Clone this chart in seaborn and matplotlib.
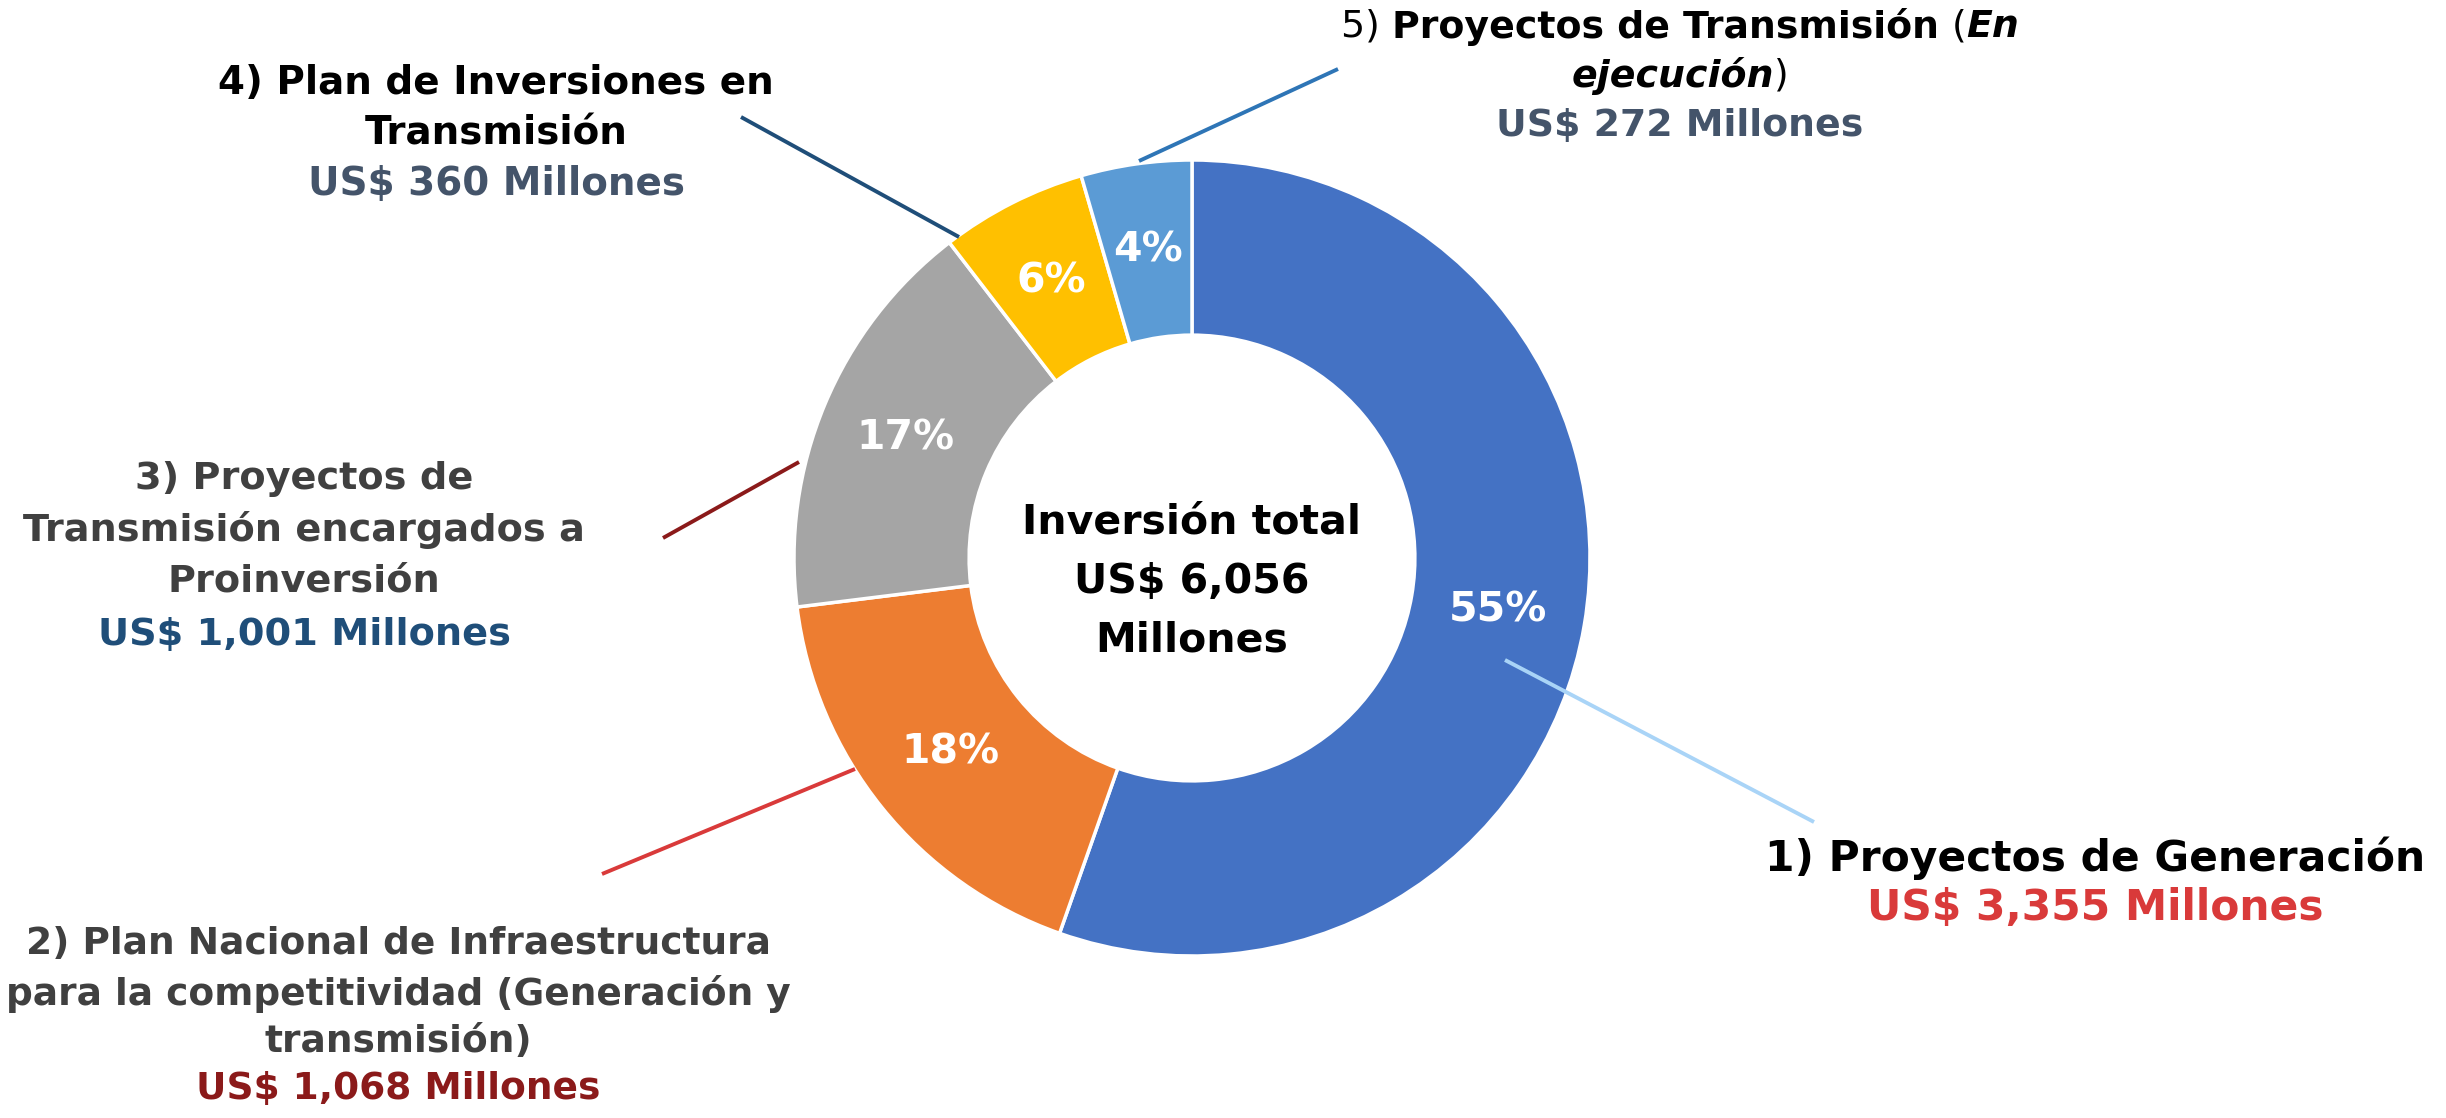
import numpy as np
import matplotlib
matplotlib.use("Agg")
import matplotlib.pyplot as plt
import seaborn as sns


# ===============================
# DATA
# ===============================
segments = [
    "1) Proyectos de Generación",
    "2) Plan Nacional de Infraestructura para la competitividad (Generación y transmisión)",
    "3) Proyectos de Transmisión encargados a Proinversión",
    "4) Plan de Inversiones en Transmisión",
    "5) Proyectos de Transmisión (En ejecución)",
]
amounts = [3355, 1068, 1001, 360, 272]          # US$ millones
amount_labels = ["US$ 3,355 Millones", "US$ 1,068 Millones", "US$ 1,001 Millones",
                 "US$ 360 Millones", "US$ 272 Millones"]
total_label = ["Inversión total", "US$ 6,056", "Millones"]
slice_colors = ["#4472C4", "#ED7D31", "#A5A5A5", "#FFC000", "#5B9BD5"]


# ===============================
# STYLE
# ===============================
sns.set_theme(style="white")
plt.rcParams['font.family'] = ['DejaVu Sans']
plt.rcParams['font.weight'] = 'bold'

W, H, DPI = 2446, 1118, 100
CX, CY, R = 1192, 558, 398   # donut centre and outer radius in pixels


def P(x, y):
    """pixel position (from top-left) -> data coords of the pie axes"""
    return (x - CX) / R, (CY - y) / R


fig = plt.figure(figsize=(W / DPI, H / DPI), dpi=DPI)
ax = fig.add_axes([0, 0, 1, 1])

palette = sns.color_palette(slice_colors)
wedges, texts, autotexts = ax.pie(
    amounts,
    colors=palette,
    startangle=90,
    counterclock=False,
    radius=1.0,
    autopct='%.0f%%',
    pctdistance=0.78,
    wedgeprops=dict(width=0.44, edgecolor='white', linewidth=2.5),
    textprops=dict(color='white', fontsize=29.5, fontweight='bold'),
)

x0, y0 = P(0, H)
x1, y1 = P(W, 0)
ax.set_xlim(x0, x1)
ax.set_ylim(y0, y1)
ax.set_aspect('equal')
ax.axis('off')

# centre text
for line, py in zip(total_label, [523, 582, 641]):
    ax.text(*P(CX, py), line, ha='center', va='center', fontsize=29.5,
            fontweight='bold', color='black')

# ===============================
# CALLOUTS
# ===============================
dark = '#404040'

callouts = [
    # lines, colors, center x, line ys, size
    (["1) Proyectos de Generación", amount_labels[0]],
     ['black', '#D93A3A'], 2095, [858, 908], 30.5),
    (["2) Plan Nacional de Infraestructura", "para la competitividad (Generación y",
      "transmisión)", amount_labels[1]],
     [dark, dark, dark, '#8B1A1A'], 398, [944, 994, 1042, 1089], 27),
    (["3) Proyectos de", "Transmisión encargados a", "Proinversión", amount_labels[2]],
     [dark, dark, dark, '#1F4E79'], 304, [479, 530, 582, 635], 27.5),
    (["4) Plan de Inversiones en", "Transmisión", amount_labels[3]],
     ['black', 'black', '#44546A'], 496, [83, 134, 184], 28),
]
for lines, cols, cx, ys, fs in callouts:
    for line, col, py in zip(lines, cols, ys):
        ax.text(*P(cx, py), line, ha='center', va='center', fontsize=fs,
                fontweight='bold', color=col)

# label 5 has mixed styles -> draw piece by piece
LBL5 = 27.3
renderer = fig.canvas.get_renderer()


def styled_line(pieces, cx, py):
    arts = []
    for txt, w, st in pieces:
        t = ax.text(0, 0, txt, fontsize=LBL5, fontweight=w, fontstyle=st,
                    color='black', ha='left', va='center')
        arts.append(t)
    widths = [a.get_window_extent(renderer).width for a in arts]
    x = cx - sum(widths) / 2
    for a, w in zip(arts, widths):
        a.set_position(P(x, py))
        x += w


styled_line([("5) ", 'normal', 'normal'),
             ("Proyectos de Transmisión ", 'bold', 'normal'),
             ("(", 'normal', 'normal'),
             ("En", 'bold', 'italic')], 1680, 27)
styled_line([("ejecución", 'bold', 'italic'),
             (")", 'normal', 'normal')], 1680, 76)
ax.text(*P(1680, 126), amount_labels[4], ha='center', va='center', fontsize=LBL5,
        fontweight='bold', color='#44546A')

# leader lines
leaders = [
    ((1505, 660), (1814, 822), '#A9D4F7'),
    ((855, 769), (602, 874), '#D93A3A'),
    ((799, 462), (663, 538), '#8B1A1A'),
    ((741, 117), (959, 237), '#1F4E79'),
    ((1139, 161), (1338, 69), '#2E75B6'),
]
for a, b, c in leaders:
    pa, pb = P(*a), P(*b)
    ax.plot([pa[0], pb[0]], [pa[1], pb[1]], color=c, lw=2.8,
            solid_capstyle='butt')

fig.savefig("out.png", dpi=DPI, facecolor='white')
plt.close(fig)
